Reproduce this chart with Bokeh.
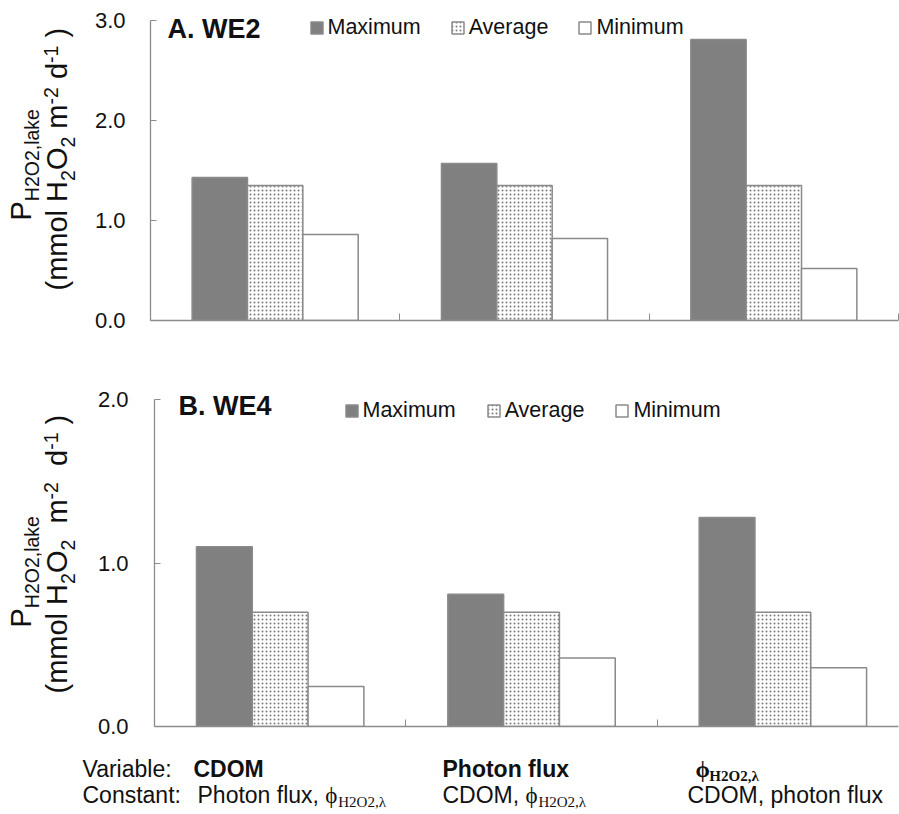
import math
import numpy as np
from bokeh.plotting import figure
from bokeh.models import (Range1d, FixedTicker, Label, Legend, LegendItem,
                          NumeralTickFormatter)
from bokeh.layouts import column, row
from bokeh.embed import file_html
from bokeh.resources import INLINE

# ---------------- data ----------------
categories = ["CDOM", "Photon flux", "\u03d5H2O2,\u03bb"]
series_names = ["Maximum", "Average", "Minimum"]

we2_max = [1.43, 1.57, 2.81]
we2_avg = [1.35, 1.35, 1.35]
we2_min = [0.86, 0.82, 0.52]

we4_max = [1.10, 0.81, 1.28]
we4_avg = [0.70, 0.70, 0.70]
we4_min = [0.245, 0.42, 0.36]

we2_yticks = [0, 1, 2, 3]
we4_yticks = [0, 1, 2]
x_boundaries = [1, 2, 3]

panel_titles = ["A. WE2", "B. WE4"]
variable_labels = ["CDOM", "Photon flux", "\u03d5"]

# ---------------- style ----------------
SANS = "Liberation Sans"
SERIF = "Liberation Serif"
TXT = "#111111"
AX = "#8c8c8c"
DARK = "#808080"
EDGE = "#8a8a8a"
MID = 0.35  # distance from the baseline to the middle of the text box, in em

W_SANS = {' ': 278, '(': 333, ')': 333, ',': 278, '-': 333, '.': 278, ':': 278,
          'A': 667, 'B': 667, 'C': 722, 'D': 722, 'E': 667, 'H': 722, 'M': 833,
          'O': 778, 'P': 667, 'W': 944,
          'a': 556, 'b': 556, 'c': 500, 'd': 556, 'e': 556, 'f': 278, 'g': 556,
          'h': 556, 'i': 222, 'k': 500, 'l': 222, 'm': 833, 'n': 556, 'o': 556,
          'p': 556, 'r': 333, 's': 500, 't': 278, 'u': 556, 'v': 500, 'x': 500}
W_SANS_B = {' ': 278, '.': 278, ',': 278, 'A': 722, 'B': 722, 'C': 722, 'D': 722,
            'E': 667, 'M': 833, 'O': 778, 'P': 667, 'W': 944, 'f': 333, 'h': 611,
            'l': 278, 'n': 611, 'o': 611, 't': 333, 'u': 611, 'x': 556}
W_SERIF = {'\u03d5': 560, 'H': 722, 'O': 722, '2': 500, ',': 250, '\u03bb': 500, ' ': 250}
W_SERIF_B = {'\u03d5': 600, 'H': 778, 'O': 778, '2': 500, ',': 250, '\u03bb': 550, ' ': 250}


def table_for(font, style):
    if font == SERIF:
        return W_SERIF_B if style == "bold" else W_SERIF
    return W_SANS_B if style == "bold" else W_SANS


def text_width(text, font, style, size):
    t = table_for(font, style)
    return sum(t.get(c, 556) for c in text) * size / 1000.0


def rich(p, segs, x0, y0, rotated=False):
    """segs: (text, font, size, style, shift); shift>0 = down (subscript).
    (x0, y0) = start of the baseline, in screen px from the frame's bottom-left."""
    adv = 0.0
    for text, font, size, style, shift in segs:
        stripped = text.lstrip(" ")
        lead = text[: len(text) - len(stripped)]
        adv += text_width(lead, font, style, size)
        w = text_width(stripped, font, style, size)
        if stripped:
            kw = dict(text=stripped, x_units="screen", y_units="screen",
                      text_font=font, text_font_size=f"{size}px",
                      text_font_style=style, text_color=TXT,
                      text_baseline="middle")
            if rotated:
                lab = Label(x=x0 + shift - MID * size, y=y0 + adv + w / 2,
                            angle=math.pi / 2, text_align="center", **kw)
            else:
                lab = Label(x=x0 + adv, y=y0 - shift + MID * size,
                            text_align="left", **kw)
            p.add_layout(lab)
        adv += w


def blank_fig(w, h, bottom=0):
    f = figure(width=w, height=h, x_range=Range1d(0, w), y_range=Range1d(0, h),
               toolbar_location=None, output_backend="svg",
               x_axis_type=None, y_axis_type=None,
               min_border_left=0, min_border_right=0, min_border_top=0,
               min_border_bottom=bottom)
    f.grid.visible = False
    f.outline_line_color = None
    return f


def make_panel(width, height, xr_end, yr_end, ymax, yticks, borders, standoff,
               vmax, vavg, vmin):
    left, bottom = borders
    p = figure(width=width, height=height, x_range=Range1d(0, xr_end),
               y_range=Range1d(0, yr_end), toolbar_location=None,
               output_backend="svg", min_border_left=left, min_border_right=1,
               min_border_top=0, min_border_bottom=bottom)
    p.xgrid.visible = False
    p.ygrid.visible = False
    p.outline_line_color = None

    yax = p.yaxis[0]
    yax.bounds = (0, ymax)
    yax.ticker = FixedTicker(ticks=yticks)
    yax.formatter = NumeralTickFormatter(format="0.0")
    yax.major_tick_in = 6
    yax.major_tick_out = 0
    yax.minor_tick_in = 0
    yax.minor_tick_out = 0
    yax.axis_line_color = AX
    yax.axis_line_width = 1.3
    yax.major_tick_line_color = AX
    yax.major_label_text_font = SANS
    yax.major_label_text_font_size = "22px"
    yax.major_label_text_color = TXT
    yax.major_label_standoff = standoff

    xax = p.xaxis[0]
    xax.ticker = FixedTicker(ticks=x_boundaries)
    xax.major_tick_in = 7
    xax.major_tick_out = 0
    xax.minor_tick_in = 0
    xax.minor_tick_out = 0
    xax.axis_line_color = AX
    xax.axis_line_width = 1.3
    xax.major_tick_line_color = AX
    xax.major_label_overrides = {1: "", 2: "", 3: ""}

    centers = np.arange(len(categories)) + 0.5
    w = 0.222
    r_max = p.vbar(x=centers - w, top=vmax, bottom=0, width=w,
                   fill_color=DARK, line_color=EDGE, line_width=1.5)
    r_avg = p.vbar(x=centers, top=vavg, bottom=0, width=w,
                   fill_color="white", hatch_pattern="dot", hatch_scale=4,
                   hatch_weight=1.2, hatch_color="#7a7a7a",
                   line_color=EDGE, line_width=1.5)
    r_min = p.vbar(x=centers + w, top=vmin, bottom=0, width=w,
                   fill_color="white", line_color=EDGE, line_width=1.5)
    return p, [r_max, r_avg, r_min]


def add_legend(p, rends, loc, spacing):
    items = [LegendItem(label=n, renderers=[r]) for n, r in zip(series_names, rends)]
    leg = Legend(items=items, orientation="horizontal", location=loc,
                 glyph_width=15, glyph_height=15, label_standoff=4,
                 spacing=spacing, padding=0, margin=0,
                 border_line_color=None, background_fill_alpha=0,
                 label_text_font=SANS, label_text_font_size="21.5px",
                 label_text_color=TXT, label_height=24)
    p.add_layout(leg)


def title_label(p, text, x, baseline_y, size=27):
    p.add_layout(Label(text=text, x=x, y=baseline_y + MID * size,
                       x_units="screen", y_units="screen",
                       text_font=SANS, text_font_size=f"{size}px",
                       text_font_style="bold", text_color=TXT,
                       text_align="left", text_baseline="middle"))


LW = 80      # width of the y-label strip
YF, YS = 29, 19.5   # y-label font sizes (main, sub/superscript)

# ---------------- panel A (frame bottom at 320px, 100 px per unit) ----------------
HA, BA = 345, 25
FBA = HA - BA  # frame bottom, canvas px from top
labA = blank_fig(LW, HA, BA)
pA, rA = make_panel(899 - LW, HA, 3, 3.2, 3, we2_yticks, (150 - LW, BA), 25,
                    we2_max, we2_avg, we2_min)
add_legend(pA, rA, (158.5, 280), 29)
title_label(pA, panel_titles[0], 17, FBA - 38)
rich(labA, [("P", SANS, YF, "normal", 0), ("H2O2,lake", SANS, YS, "normal", 7)],
     31, FBA - 220, rotated=True)
rich(labA, [("(mmol H", SANS, YF, "normal", 0), ("2", SANS, YS, "normal", 7),
            ("O", SANS, YF, "normal", 0), ("2", SANS, YS, "normal", 7),
            (" m", SANS, YF, "normal", 0), ("-2", SANS, YS, "normal", -10),
            (" d", SANS, YF, "normal", 0), ("-1", SANS, YS, "normal", -10),
            (" )", SANS, YF, "normal", 0)],
     67, FBA - 290, rotated=True)

# ---------------- panel B (frame bottom at 726px, 163.3 px per unit) -------
HB, BB = 407, 26
FBB = HB - BB  # 381 -> 726 on the page
labB = blank_fig(LW, HB, BB)
pB, rB = make_panel(899 - LW, HB, 2.96, FBB / 163.3, 2, we4_yticks, (154 - LW, BB), 26,
                    we4_max, we4_avg, we4_min)
add_legend(pB, rB, (189.5, 303.5), 30)
title_label(pB, panel_titles[1], 24, FBB - (415 - 345))
rich(labB, [("P", SANS, YF, "normal", 0), ("H2O2,lake", SANS, YS, "normal", 7)],
     31, FBB - (627 - 345), rotated=True)
rich(labB, [("(mmol H", SANS, YF, "normal", 0), ("2", SANS, YS, "normal", 7),
            ("O", SANS, YF, "normal", 0), ("2", SANS, YS, "normal", 7),
            ("  m", SANS, YF, "normal", 0), ("-2", SANS, YS, "normal", -10),
            ("  d", SANS, YF, "normal", 0), ("-1", SANS, YS, "normal", -10),
            (" )", SANS, YF, "normal", 0)],
     67, FBB - (693 - 345), rotated=True)

# ---------------- bottom annotation rows (canvas top at 752px) ----------------
HT = 62
txt = blank_fig(899, HT)
FS = 23
SUB = 15
y1, y2 = HT - (777 - 752), HT - (803 - 752)
rich(txt, [("Variable:", SANS, FS, "normal", 0)], 82, y1)
rich(txt, [(variable_labels[0], SANS, FS, "bold", 0)], 193, y1)
rich(txt, [(variable_labels[1], SANS, FS, "bold", 0)], 442, y1)
rich(txt, [(variable_labels[2], SERIF, FS, "bold", 0), ("H2O2,\u03bb", SERIF, SUB, "bold", 4)], 695, y1)

rich(txt, [("Constant:", SANS, FS, "normal", 0)], 82, y2)
rich(txt, [("Photon flux, ", SANS, FS, "normal", 0), ("\u03d5", SERIF, FS, "normal", 0),
           ("H2O2,\u03bb", SERIF, SUB, "normal", 4)], 197, y2)
rich(txt, [("CDOM, ", SANS, FS, "normal", 0), ("\u03d5", SERIF, FS, "normal", 0),
           ("H2O2,\u03bb", SERIF, SUB, "normal", 4)], 442, y2)
rich(txt, [("CDOM, photon flux", SANS, FS, "normal", 0)], 687, y2)

layout = column(row(labA, pA, spacing=0), row(labB, pB, spacing=0), txt, spacing=0)
open("out.html", "w").write(file_html(layout, INLINE))
